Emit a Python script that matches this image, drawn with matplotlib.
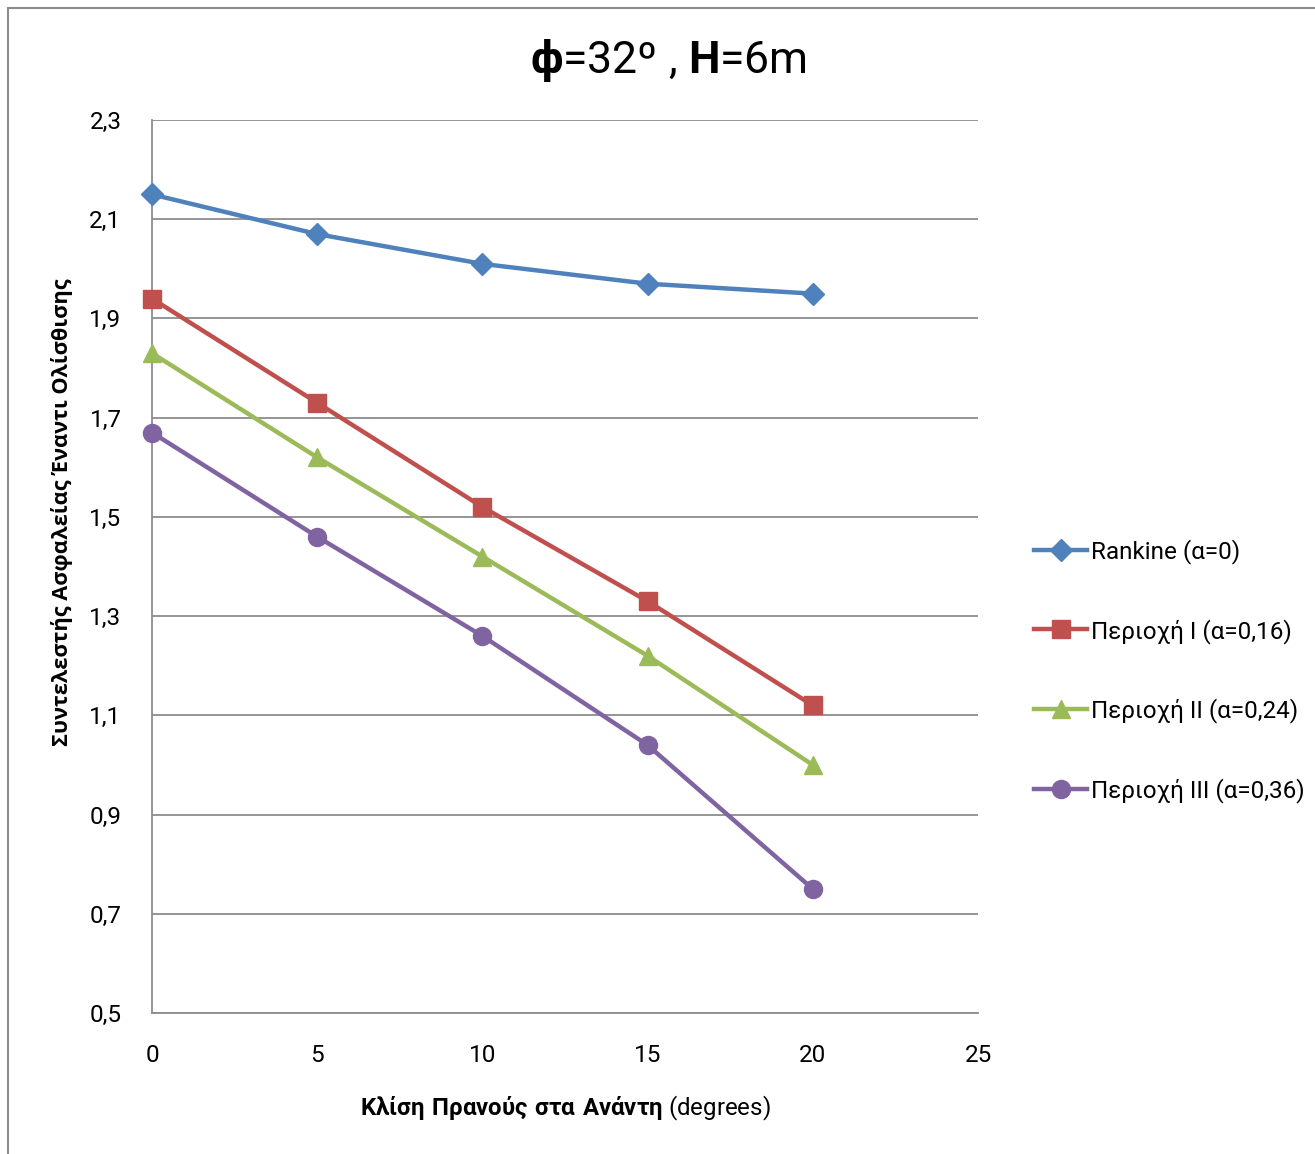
import matplotlib
matplotlib.use('Agg')
import matplotlib.pyplot as plt
from matplotlib.patches import Rectangle
from matplotlib.ticker import FuncFormatter

plt.rcParams['font.family'] = ['Roboto', 'DejaVu Sans']
plt.rcParams['mathtext.fontset'] = 'custom'
plt.rcParams['mathtext.rm'] = 'Roboto'
plt.rcParams['mathtext.bf'] = 'Roboto:bold'

# slope angle (degrees)
slope = [0, 5, 10, 15, 20]

# factor of safety against sliding
rankine = [2.15, 2.07, 2.01, 1.97, 1.95]
zone1 = [1.94, 1.73, 1.52, 1.33, 1.12]
zone2 = [1.83, 1.62, 1.42, 1.22, 1.00]
zone3 = [1.67, 1.46, 1.26, 1.04, 0.75]

labels = ['Rankine (α=0)', 'Περιοχή I (α=0,16)',
          'Περιοχή II (α=0,24)', 'Περιοχή III (α=0,36)']
colors = ['#4F81BD', '#C0504D', '#9BBB59', '#8064A2']
markers = ['D', 's', '^', 'o']
msizes = [11, 13, 13, 13]

yticks = [0.5, 0.7, 0.9, 1.1, 1.3, 1.5, 1.7, 1.9, 2.1, 2.3]
xticks = [0, 5, 10, 15, 20, 25]

fig = plt.figure(figsize=(13.15, 11.54), dpi=100)
ax = fig.add_axes([152/1315, 1 - 1013/1154, (978-152)/1315, (1013-120)/1154])

# outer chart border
fig.patches.append(Rectangle((8/1315, -0.01), 1.1, 1 - 8/1154 + 0.01,
                             transform=fig.transFigure, fill=False,
                             edgecolor='#8C8C8C', linewidth=1.5))

series = [rankine, zone1, zone2, zone3]
for vals, lab, c, m, ms in zip(series, labels, colors, markers, msizes):
    ax.plot(slope, vals, color=c, linewidth=3.2, marker=m, markersize=ms,
            label=lab, clip_on=False, zorder=3)

ax.set_xlim(0, 25)
ax.set_ylim(0.5, 2.3)
ax.set_xticks(xticks)
ax.set_yticks(yticks)
ax.yaxis.set_major_formatter(FuncFormatter(lambda v, p: ('%.1f' % v).replace('.', ',')))
ax.tick_params(length=0, labelsize=17.5, pad=22)
ax.tick_params(axis='x', pad=22)
ax.grid(axis='y', color='#8C8C8C', linewidth=1.3)
ax.set_axisbelow(True)
for s in ['top', 'right']:
    ax.spines[s].set_visible(False)
for s in ['left', 'bottom']:
    ax.spines[s].set_color('#8C8C8C')
    ax.spines[s].set_linewidth(1.3)

fig.text(0.508, 1 - 60/1154, r'$\mathbf{ϕ}$=32º , $\mathbf{H}$=6m',
         ha='center', va='center', fontsize=32)

fig.text(565/1315, 1 - 1108/1154,
         r'$\mathbf{Κλίση\ Πρανούς\ στα\ Ανάντη}$ (degrees)',
         ha='center', va='center', fontsize=17.3)
fig.text(62/1315, 1 - 512/1154, 'Συντελεστής Ασφαλείας Έναντι Ολίσθισης',
         rotation=90, ha='center', va='center', fontsize=15.7,
         fontweight='bold', family='Open Sans')

ax.legend(loc='upper left', bbox_to_anchor=(1034/1315, 1 - 539/1154),
          bbox_transform=fig.transFigure, frameon=False, fontsize=17.5,
          handlelength=2.2, handletextpad=0.15, labelspacing=2.25,
          borderpad=0, borderaxespad=0)

fig.savefig('out.png', dpi=100)
